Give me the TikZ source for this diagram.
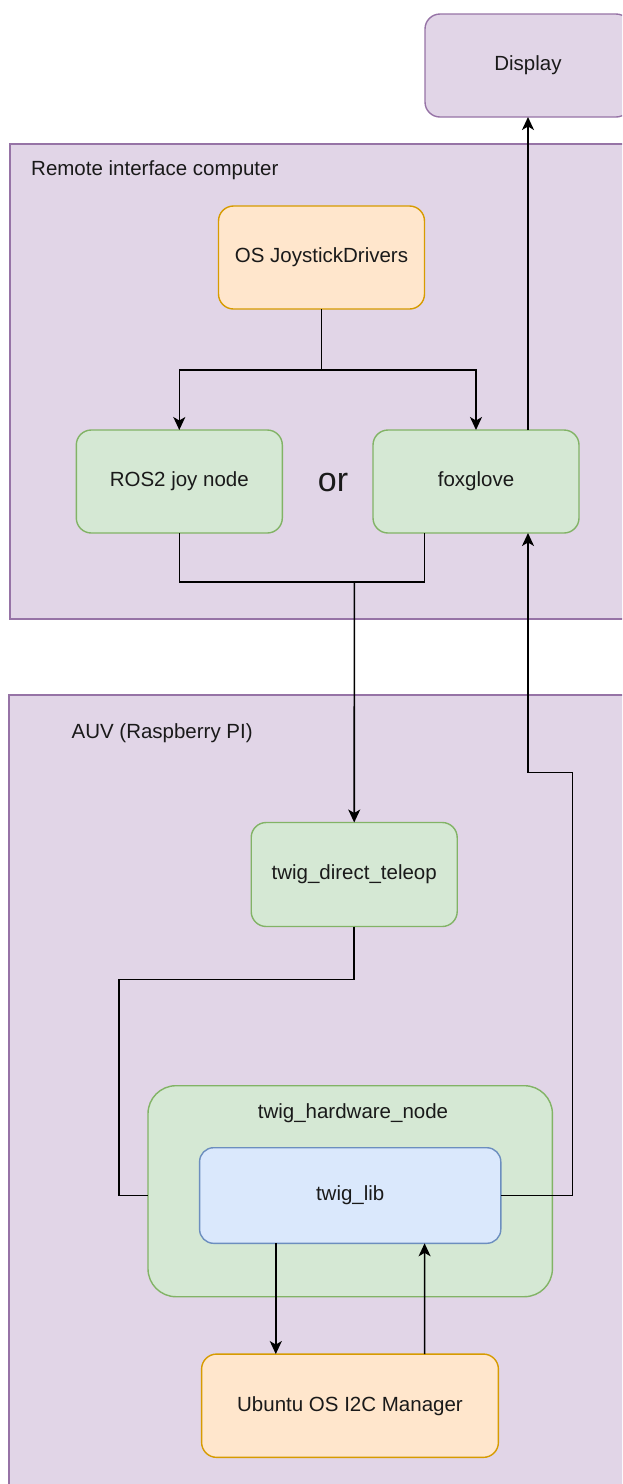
\documentclass[tikz,border=0pt]{standalone}
\usepackage{fontspec}
\setmainfont{Liberation Sans}
\usetikzlibrary{arrows.meta}
\definecolor{purfill}{HTML}{E1D5E7}
\definecolor{purline}{HTML}{9673A6}
\definecolor{grnfill}{HTML}{D5E8D4}
\definecolor{grnline}{HTML}{82B366}
\definecolor{orgfill}{HTML}{FFE6CC}
\definecolor{orgline}{HTML}{D79B00}
\definecolor{blufill}{HTML}{DAE8FC}
\definecolor{bluline}{HTML}{6C8EBF}
\definecolor{txt}{HTML}{1A1A1A}
\newcommand{\fs}{\fontsize{20.5pt}{24pt}\selectfont}
\tikzset{
  base/.style={rectangle, rounded corners=15pt, line width=1.4pt, font=\fs, text=txt,
    minimum width=206pt, minimum height=103pt, inner sep=0pt, outer sep=0pt},
  purbox/.style={base, fill=purfill, draw=purline},
  grnbox/.style={base, fill=grnfill, draw=grnline},
  orgbox/.style={base, fill=orgfill, draw=orgline},
  blubox/.style={base, fill=blufill, draw=bluline},
  container/.style={fill=purfill, draw=purline, line width=1.4pt},
  lbl/.style={font=\fs, text=txt, inner sep=0pt},
  conn/.style={line width=1.6pt, draw=black},
  arr/.style={conn, -{Stealth[length=13pt,width=12pt,inset=3.5pt]}}
}
\begin{document}
\begin{tikzpicture}[x=1pt,y=-1pt]
\useasboundingbox (0,0) rectangle (622,1484);
\clip (0,0) rectangle (622,1484);
% containers
\draw[container] (10,144) rectangle (640,619);
\draw[container] (9,695) rectangle (640,1500);
\node[lbl, anchor=west] (remlbl) at (31,170) {Remote interface computer};
\node[lbl, anchor=west] (auvlbl) at (71.4,733) {AUV (Raspberry PI)};
% nodes
\node[purbox] (disp) at (528,65.5) {Display};
\node[orgbox] (joy) at (321.5,257.5) {OS JoystickDrivers};
\node[grnbox] (ros) at (179.3,481.5) {ROS2 joy node};
\node[grnbox] (fox) at (476,481.5) {foxglove};
\node[lbl, font=\fontsize{34pt}{40pt}\selectfont] (or) at (333,483) {or};
\node[grnbox, minimum height=104pt] (tele) at (354.2,874.5) {twig\_direct\_teleop};
\node[grnbox, minimum width=404.4pt, minimum height=211pt, rounded corners=28pt] (hw) at (350.2,1191.2) {};
\node[lbl] (hwlbl) at (353,1113) {twig\_hardware\_node};
\node[blubox, minimum width=301.2pt, minimum height=95.6pt, rounded corners=14pt] (lib) at (350.2,1195.5) {twig\_lib};
\node[orgbox, minimum width=296.8pt, minimum height=103.3pt] (ubu) at (350,1405.7) {Ubuntu OS I2C Manager};
% coordinates
\coordinate (j1) at (321.5,370);
\coordinate (m1) at (354.4,582);
\coordinate (t1) at (118.7,979.3);
\coordinate (r1) at (572.6,772.3);
% connectors
\draw[arr] (joy.south) -- (j1) -| (ros.north);
\draw[arr] (j1) -| (fox.north);
\draw[conn] (ros.south) |- (m1) -| ([xshift=-51.4pt]fox.south);
\draw[arr] (m1) -- (tele.north);
\draw[conn] (tele.south) |- (t1) |- (hw.west |- lib.west);
\draw[arr] (lib.east) -| (r1) -| ([xshift=52pt]fox.south);
\draw[arr] ([xshift=52pt]fox.north) -- (disp.south);
\draw[arr] ([xshift=-74.4pt]lib.south) -- ([xshift=-74.2pt]ubu.north);
\draw[arr] ([xshift=74.6pt]ubu.north) -- ([xshift=74.4pt]lib.south);
\end{tikzpicture}
\end{document}
